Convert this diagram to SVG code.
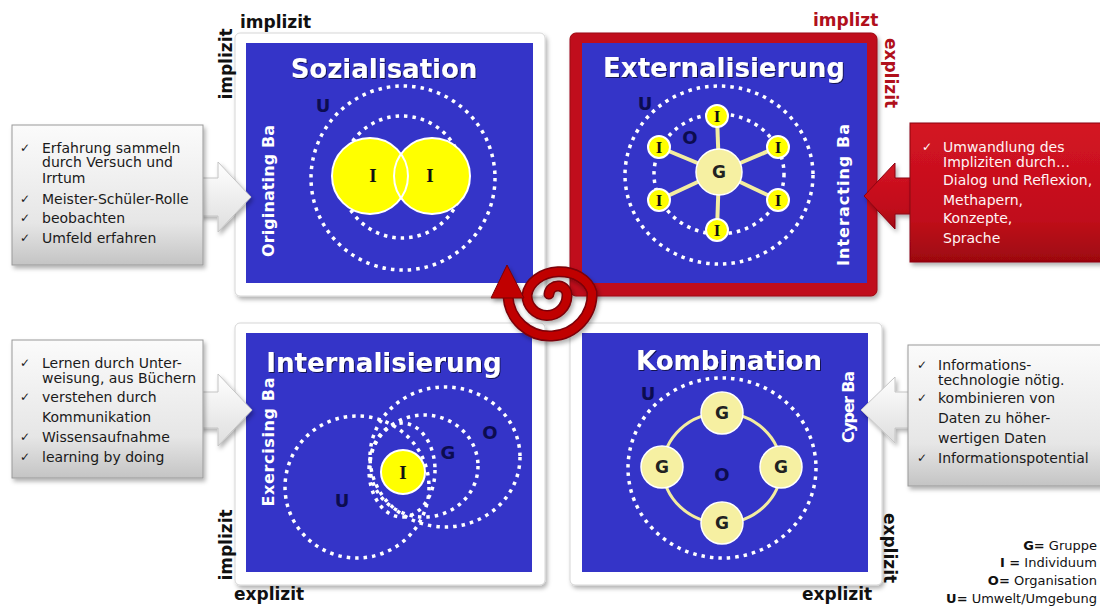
<svg xmlns="http://www.w3.org/2000/svg" width="1100" height="607" viewBox="0 0 1100 607">
<defs>
<style>
.card{fill:#ffffff;stroke:#d6d6d6;stroke-width:1;}
.blue{fill:#3434c8;}
.title{font-family:"DejaVu Sans",sans-serif;font-weight:bold;font-size:26px;fill:#ffffff;text-anchor:middle;}
.ba{font-family:"DejaVu Sans",sans-serif;font-weight:bold;font-size:16px;fill:#ffffff;text-anchor:middle;}
.dot{fill:none;stroke:#ffffff;stroke-width:3.5;stroke-dasharray:3.5 5;}
.lbl{font-family:"DejaVu Sans",sans-serif;font-weight:bold;font-size:18px;fill:#0c0c50;text-anchor:middle;}
.yI{fill:#ffff00;stroke:#ffffff;stroke-width:2;}
.yG{fill:#f6f0a2;stroke:#ffffff;stroke-width:1.5;}
.spoke{stroke:#f3eda0;stroke-width:4;fill:none;}
.serif{font-family:"Liberation Serif",serif;font-weight:bold;fill:#111111;text-anchor:middle;}
.gtxt{font-family:"DejaVu Sans",sans-serif;font-weight:bold;font-size:17px;fill:#222222;text-anchor:middle;}
.axis{font-family:"DejaVu Sans",sans-serif;font-weight:bold;font-size:17px;fill:#111111;}
.axisr{font-family:"DejaVu Sans",sans-serif;font-weight:bold;font-size:17px;fill:#b0101c;}
.ct{font-family:"DejaVu Sans",sans-serif;font-size:14px;fill:#1a1a1a;}
.ctw{font-family:"DejaVu Sans",sans-serif;font-size:14px;fill:#fff4f4;}
.chk{font-family:"DejaVu Sans",sans-serif;font-size:12px;fill:#1a1a1a;}
.chkw{font-family:"DejaVu Sans",sans-serif;font-size:12px;fill:#ffffff;}
.leg{font-family:"DejaVu Sans",sans-serif;font-size:13px;fill:#111111;text-anchor:end;}
.box{fill:url(#gGray);stroke:#9a9a9a;stroke-width:1;}
.arr{fill:url(#gArr);stroke:#c4c4c4;stroke-width:1;}
</style>
<filter id="sh" x="-10%" y="-10%" width="130%" height="130%">
<feDropShadow dx="2" dy="3" stdDeviation="2" flood-color="#000" flood-opacity="0.3"/>
</filter>
<filter id="tsh" x="-5%" y="-20%" width="110%" height="150%">
<feDropShadow dx="1" dy="1" stdDeviation="0.6" flood-color="#000" flood-opacity="0.6"/>
</filter>
<linearGradient id="gGray" x1="0" y1="0" x2="0" y2="1">
<stop offset="0" stop-color="#fbfbfb"/>
<stop offset="0.7" stop-color="#e6e6e6"/>
<stop offset="1" stop-color="#c4c4c4"/>
</linearGradient>
<linearGradient id="gArr" x1="0" y1="0" x2="0" y2="1">
<stop offset="0" stop-color="#ffffff"/>
<stop offset="1" stop-color="#dedede"/>
</linearGradient>
<linearGradient id="gRed" x1="0" y1="0" x2="0" y2="1">
<stop offset="0" stop-color="#d41423"/>
<stop offset="0.7" stop-color="#c00d1a"/>
<stop offset="1" stop-color="#9c0610"/>
</linearGradient>
</defs>
<rect x="0" y="0" width="1100" height="607" fill="#ffffff"/>

<g id="q-sozialisation">
<rect class="card" x="235" y="33" width="310" height="263" rx="5" filter="url(#sh)"/>
<rect class="blue" x="246" y="43" width="287" height="240"/>
<text class="title" x="384" y="78" filter="url(#tsh)">Sozialisation</text>
<circle class="dot" cx="403" cy="178" r="92"/>
<circle class="dot" cx="402" cy="177" r="61"/>
<circle cx="370" cy="176" r="38" fill="#ffff00"/>
<circle cx="432" cy="176" r="38" fill="#ffff00"/>
<circle cx="370" cy="176" r="38" fill="none" stroke="#ffffff" stroke-width="2"/>
<circle cx="432" cy="176" r="38" fill="none" stroke="#ffffff" stroke-width="2"/>
<text class="serif" x="373" y="182" font-size="19">I</text>
<text class="serif" x="430" y="182" font-size="19">I</text>
<text class="lbl" x="323" y="112">U</text>
<text class="ba" transform="translate(268,191) rotate(-90)" x="0" y="6" textLength="132">Originating Ba</text>
</g>

<g id="q-externalisierung">
<rect x="570" y="33" width="307" height="263" rx="6" fill="#c00d1a" stroke="#9a0610" stroke-width="1" filter="url(#sh)"/>
<rect class="blue" x="582" y="43" width="285" height="240"/>
<text class="title" x="724" y="77" filter="url(#tsh)">Externalisierung</text>
<ellipse class="dot" cx="719" cy="175" rx="94" ry="89"/>
<ellipse class="dot" cx="719" cy="174" rx="65" ry="60"/>
<line class="spoke" x1="719" y1="172" x2="717" y2="116"/>
<line class="spoke" x1="719" y1="172" x2="659" y2="147"/>
<line class="spoke" x1="719" y1="172" x2="778" y2="147"/>
<line class="spoke" x1="719" y1="172" x2="659" y2="200"/>
<line class="spoke" x1="719" y1="172" x2="778" y2="200"/>
<line class="spoke" x1="719" y1="172" x2="717" y2="230"/>
<circle class="yG" cx="719" cy="172" r="23"/>
<circle class="yI" cx="717" cy="116" r="11"/>
<circle class="yI" cx="659" cy="147" r="11"/>
<circle class="yI" cx="778" cy="147" r="11"/>
<circle class="yI" cx="659" cy="200" r="11"/>
<circle class="yI" cx="778" cy="200" r="11"/>
<circle class="yI" cx="717" cy="230" r="11"/>
<text class="serif" x="717" y="122" font-size="17">I</text>
<text class="serif" x="659" y="153" font-size="17">I</text>
<text class="serif" x="778" y="153" font-size="17">I</text>
<text class="serif" x="659" y="206" font-size="17">I</text>
<text class="serif" x="778" y="206" font-size="17">I</text>
<text class="serif" x="717" y="236" font-size="17">I</text>
<text class="gtxt" x="719" y="178">G</text>
<text class="lbl" x="645" y="110">U</text>
<text class="lbl" x="690" y="144">O</text>
<text class="ba" transform="translate(843,195) rotate(-90)" x="0" y="6" textLength="142">Interacting Ba</text>
</g>

<g id="q-internalisierung">
<rect class="card" x="235" y="323" width="310" height="262" rx="5" filter="url(#sh)"/>
<rect class="blue" x="246" y="333" width="286" height="239"/>
<text class="title" x="384" y="372" filter="url(#tsh)">Internalisierung</text>
<ellipse class="dot" cx="357" cy="487" rx="72" ry="71"/>
<ellipse class="dot" cx="445" cy="457" rx="75" ry="70"/>
<ellipse class="dot" cx="424" cy="466" rx="54" ry="51"/>
<ellipse class="dot" cx="402" cy="470" rx="33" ry="47"/>
<circle class="yI" cx="403" cy="472" r="22"/>
<text class="serif" x="403" y="479" font-size="19">I</text>
<text class="lbl" x="342" y="507">U</text>
<text class="lbl" x="448" y="459">G</text>
<text class="lbl" x="490" y="439">O</text>
<text class="ba" transform="translate(268,442) rotate(-90)" x="0" y="6" textLength="129">Exercising Ba</text>
</g>

<g id="q-kombination">
<rect class="card" x="570" y="323" width="312" height="262" rx="5" filter="url(#sh)"/>
<rect class="blue" x="582" y="333" width="286" height="239"/>
<text class="title" x="729" y="370" filter="url(#tsh)">Kombination</text>
<ellipse class="dot" cx="722" cy="468" rx="94" ry="90"/>
<ellipse cx="722" cy="468" rx="59" ry="55" fill="none" stroke="#f3eda0" stroke-width="3"/>
<circle class="yG" cx="722" cy="413" r="21"/>
<circle class="yG" cx="662" cy="467" r="21"/>
<circle class="yG" cx="781" cy="467" r="21"/>
<circle class="yG" cx="722" cy="523" r="21"/>
<text class="gtxt" x="722" y="419">G</text>
<text class="gtxt" x="662" y="473">G</text>
<text class="gtxt" x="781" y="473">G</text>
<text class="gtxt" x="722" y="529">G</text>
<text class="lbl" x="722" y="481">O</text>
<text class="lbl" x="648" y="400">U</text>
<text class="ba" transform="translate(848,407) rotate(-90)" x="0" y="6" textLength="72">Cyper Ba</text>
</g>

<g id="axes">
<text class="axis" x="240" y="28">implizit</text>
<text class="axis" transform="translate(226,64) rotate(-90)" x="0" y="6" text-anchor="middle">implizit</text>
<text class="axis" transform="translate(226,545) rotate(-90)" x="0" y="6" text-anchor="middle">implizit</text>
<text class="axis" x="234" y="600">explizit</text>
<text class="axis" x="802" y="600">explizit</text>
<text class="axis" transform="translate(890,548) rotate(90)" x="0" y="6" text-anchor="middle">explizit</text>
<text class="axisr" x="813" y="26">implizt</text>
<text class="axisr" transform="translate(891,73) rotate(90)" x="0" y="6" text-anchor="middle">explizit</text>
</g>

<g id="connectors">
<path class="arr" d="M200,178 L218,178 L218,162 L251,197 L218,232 L218,216 L200,216 Z" filter="url(#sh)"/>
<path class="arr" d="M200,392 L218,392 L218,374 L252,410 L218,446 L218,428 L200,428 Z" filter="url(#sh)"/>
<path d="M913,178 L895,178 L895,163 L864,196 L895,229 L895,214 L913,214 Z" fill="url(#gRed)" stroke="#8a0510" stroke-width="1" filter="url(#sh)"/>
<path class="arr" d="M911,392 L895,392 L895,377 L861,410 L895,443 L895,428 L911,428 Z" filter="url(#sh)"/>
<g id="spiral" filter="url(#sh)">
<path d="M508,296 A42,42 0 0 0 592,292 A33,26 0 0 0 527,295 A20,20 0 0 0 567,296 A9,9 0 0 0 549,294" fill="none" stroke="#7a0008" stroke-width="11" stroke-linecap="round"/>
<path d="M508,296 A42,42 0 0 0 592,292 A33,26 0 0 0 527,295 A20,20 0 0 0 567,296 A9,9 0 0 0 549,294" fill="none" stroke="#c00000" stroke-width="8" stroke-linecap="round"/>
<polygon points="507,265 491,298 524,298" fill="#c00000" stroke="#7a0008" stroke-width="1"/>
</g>
</g>

<g id="callout-sozialisation">
<rect class="box" x="12" y="125" width="191" height="140" filter="url(#sh)"/>
<text class="chk" x="20" y="152">✓</text>
<text class="ct" x="42" y="153">Erfahrung sammeln</text>
<text class="ct" x="42" y="167">durch Versuch und</text>
<text class="ct" x="42" y="183">Irrtum</text>
<text class="chk" x="20" y="203">✓</text>
<text class="ct" x="42" y="204">Meister-Schüler-Rolle</text>
<text class="chk" x="20" y="222">✓</text>
<text class="ct" x="42" y="223">beobachten</text>
<text class="chk" x="20" y="242">✓</text>
<text class="ct" x="42" y="243">Umfeld erfahren</text>
</g>

<g id="callout-internalisierung">
<rect class="box" x="12" y="340" width="191" height="138" filter="url(#sh)"/>
<text class="chk" x="20" y="367">✓</text>
<text class="ct" x="42" y="368">Lernen durch Unter-</text>
<text class="ct" x="42" y="383">weisung, aus Büchern</text>
<text class="chk" x="20" y="401">✓</text>
<text class="ct" x="42" y="402">verstehen durch</text>
<text class="ct" x="42" y="422">Kommunikation</text>
<text class="chk" x="20" y="441">✓</text>
<text class="ct" x="42" y="442">Wissensaufnahme</text>
<text class="chk" x="20" y="461">✓</text>
<text class="ct" x="42" y="462">learning by doing</text>
</g>

<g id="callout-externalisierung">
<rect x="910" y="123" width="200" height="139" fill="url(#gRed)" stroke="#8a0510" stroke-width="1" filter="url(#sh)"/>
<text class="chkw" x="922" y="151">✓</text>
<text class="ctw" x="943" y="152">Umwandlung des</text>
<text class="ctw" x="943" y="167">Impliziten durch…</text>
<text class="ctw" x="943" y="185">Dialog und Reflexion,</text>
<text class="ctw" x="943" y="205">Methapern,</text>
<text class="ctw" x="943" y="223">Konzepte,</text>
<text class="ctw" x="943" y="243">Sprache</text>
</g>

<g id="callout-kombination">
<rect class="box" x="908" y="345" width="200" height="141" filter="url(#sh)"/>
<text class="chk" x="917" y="369">✓</text>
<text class="ct" x="938" y="370">Informations-</text>
<text class="ct" x="938" y="385">technologie nötig.</text>
<text class="chk" x="917" y="402">✓</text>
<text class="ct" x="938" y="403">kombinieren von</text>
<text class="ct" x="938" y="423">Daten zu höher-</text>
<text class="ct" x="938" y="443">wertigen Daten</text>
<text class="chk" x="917" y="462">✓</text>
<text class="ct" x="938" y="463">Informationspotential</text>
</g>

<g id="legend">
<text class="leg" x="1097" y="550"><tspan font-weight="bold">G=</tspan> Gruppe</text>
<text class="leg" x="1097" y="567"><tspan font-weight="bold">I =</tspan> Individuum</text>
<text class="leg" x="1097" y="585"><tspan font-weight="bold">O=</tspan> Organisation</text>
<text class="leg" x="1097" y="603"><tspan font-weight="bold">U=</tspan> Umwelt/Umgebung</text>
</g>
</svg>
